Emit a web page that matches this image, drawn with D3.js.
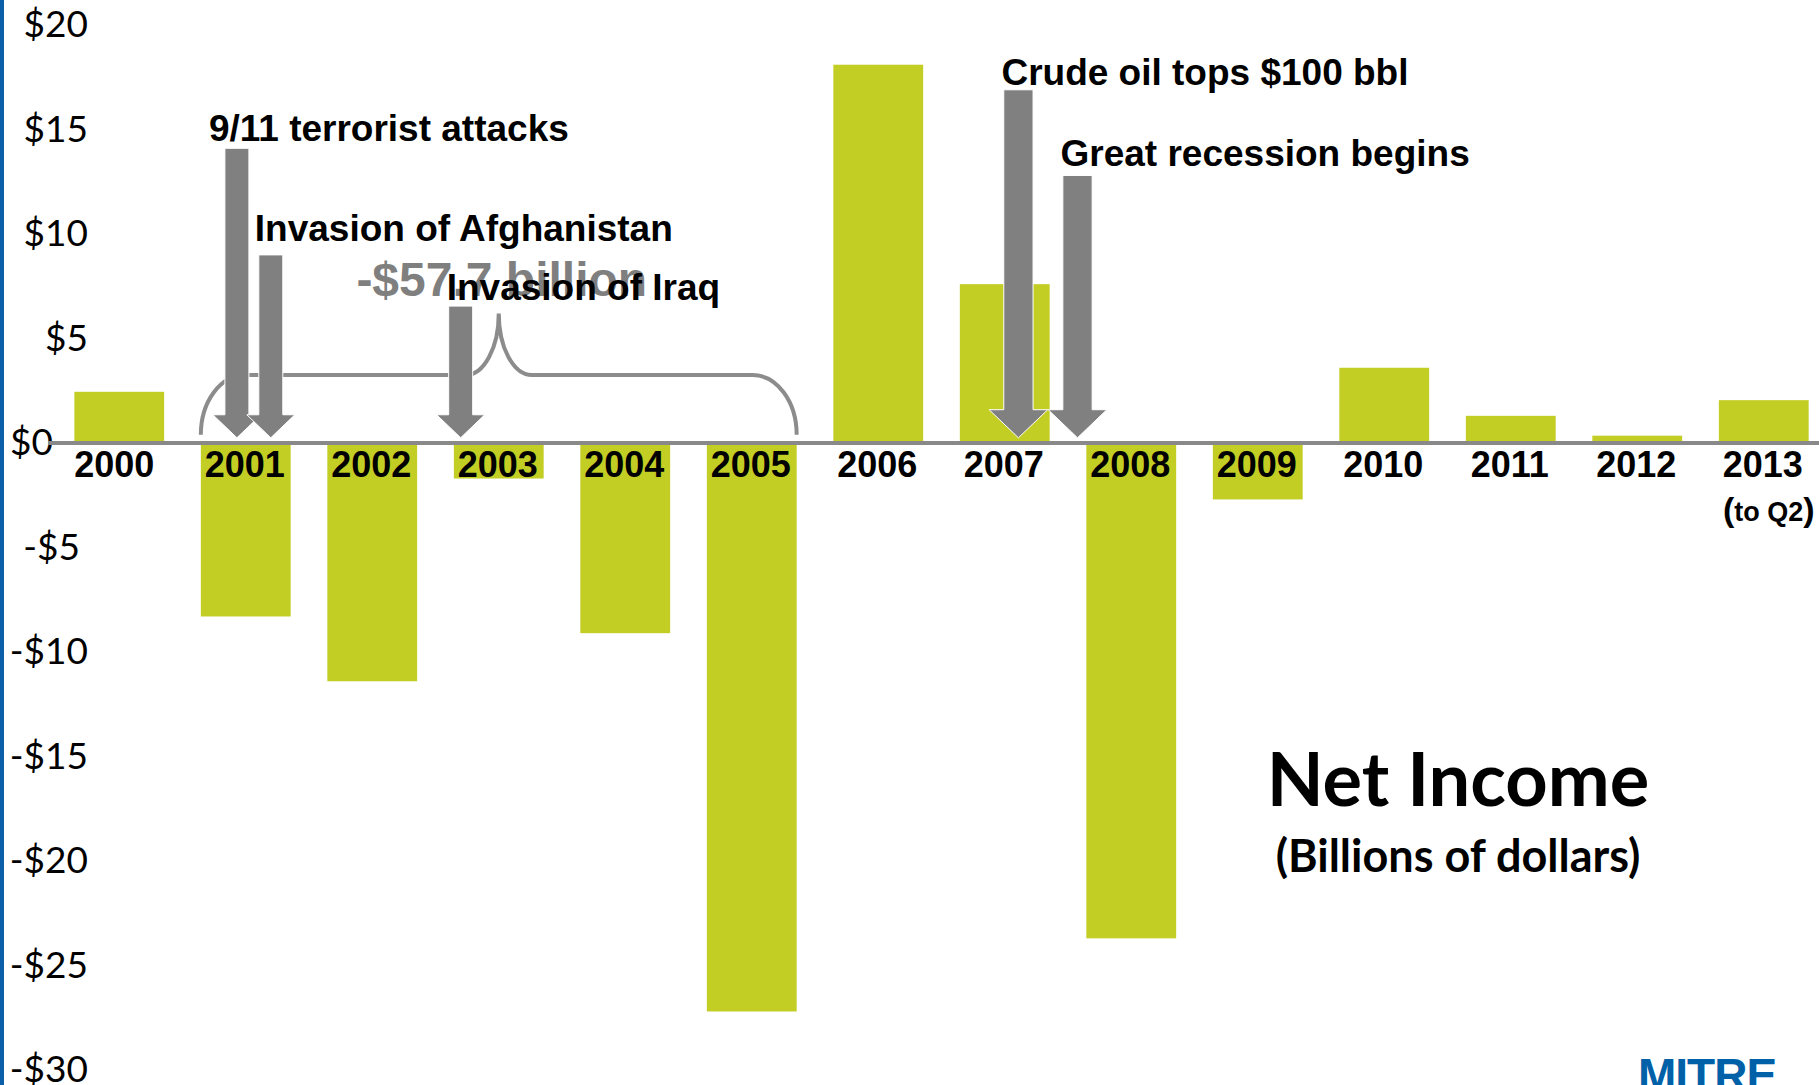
<!DOCTYPE html>
<meta charset="utf-8">
<style>
body { margin: 0; background: #fff; }
svg { display: block; }
.bar { fill: #c3ce24; }
.yaxis text { font-family: Lato, sans-serif; font-size: 37px; fill: #000; }
.year { font-family: "Liberation Sans", Arial, sans-serif; font-weight: bold; font-size: 36px; text-anchor: middle; fill: #000; }
.note { font-family: "Liberation Sans", Arial, sans-serif; font-weight: bold; font-size: 37px; fill: #000; }
.arrow { fill: #808080; stroke: #fff; stroke-width: 1px; }
.brace { fill: none; stroke: #8c8c8c; stroke-width: 4px; }
</style>
<body></body>
<script src="https://cdn.jsdelivr.net/npm/d3@7"></script>
<script>
// data (billions of dollars)
var years = ["2000", "2001", "2002", "2003", "2004", "2005", "2006",
             "2007", "2008", "2009", "2010", "2011", "2012", "2013"];
var netIncome = [2.45, -8.3, -11.4, -1.7, -9.1, -27.2, 18.1,
                 7.6, -23.7, -2.7, 3.6, 1.3, 0.35, 2.05];
var yTicks = [20, 15, 10, 5, 0, -5, -10, -15, -20, -25, -30];

// events: where along the year axis the arrow points, and how tall it is
var events = ["9/11 terrorist attacks", "Invasion of Afghanistan", "Invasion of Iraq",
              "Crude oil tops $100 bbl", "Great recession begins"];
var eventAt = [2001.285, 2001.553, 2003.054, 2007.463, 2007.93];
var eventTop = [14.1, 9.0, 6.55, 16.9, 12.8];
var braceYears = ["2001", "2005"];

// layout only
var W = 1819, H = 1085;
var labelDx = [-28, -16, -14, -17, -17];
var labelDy = [-7, -14, -6, -5, -9];
var arrowScale = [1, 1, 1, 1.22, 1.22];

var svg = d3.select("body").append("svg")
    .attr("width", W)
    .attr("height", H);

svg.append("rect").attr("width", W).attr("height", H).attr("fill", "#fff");

var x = d3.scaleBand()
    .domain(years)
    .range([56, 1827])
    .paddingInner(0.29)
    .paddingOuter(0.145);

var y = d3.scaleLinear().domain([-30, 20]).range([1070, 25]);

// year positions as numbers (band start = start of year)
var xYear = d3.scaleLinear()
    .domain([2000, 2001])
    .range([x("2000"), x("2001")]);

var data = years.map(function(d, i) { return {year: d, value: netIncome[i]}; });

// bars
svg.selectAll(".bar")
    .data(data)
    .enter().append("rect")
    .attr("class", "bar")
    .attr("x", function(d) { return x(d.year); })
    .attr("width", x.bandwidth())
    .attr("y", function(d) { return y(Math.max(0, d.value)); })
    .attr("height", function(d) { return Math.abs(y(d.value) - y(0)); });

// y axis labels only
var yAxis = svg.append("g")
    .attr("class", "yaxis")
    .attr("transform", "translate(88,0)")
    .call(d3.axisLeft(y)
        .tickValues(yTicks)
        .tickSize(0)
        .tickPadding(0)
        .tickFormat(function(d) { return (d < 0 ? "-" : "") + "$" + Math.abs(d); }));
yAxis.select(".domain").remove();
yAxis.selectAll(".tick text").attr("font-family", null).attr("font-size", null);
yAxis.selectAll(".tick").filter(function(d) { return d === 0; })
    .select("text").attr("x", -35);
yAxis.selectAll(".tick").filter(function(d) { return d === -5; })
    .select("text").attr("x", -8);

// zero line
svg.append("line")
    .attr("x1", 48).attr("x2", W)
    .attr("y1", y(0)).attr("y2", y(0))
    .attr("stroke", "#898989")
    .attr("stroke-width", 4);

// year labels
svg.selectAll(".year")
    .data(years)
    .enter().append("text")
    .attr("class", "year")
    .attr("x", function(d) { return x(d) + x.bandwidth() / 2 - (d === "2000" ? 5 : 1); })
    .attr("y", 477)
    .text(function(d) { return d; });

var q2 = svg.append("text")
    .attr("class", "year")
    .attr("x", x("2013") + x.bandwidth() / 2 + 5)
    .attr("y", 521);
q2.append("tspan").attr("font-size", 34).text("(");
q2.append("tspan").attr("font-size", 27).text("to Q2");
q2.append("tspan").attr("font-size", 34).text(")");

// brace over the loss years
var bx0 = x(braceYears[0]),
    bx1 = x(braceYears[1]) + x.bandwidth(),
    bxm = (bx0 + bx1) / 2,
    yEnd = y(0.4), yMid = y(3.25), yPeak = y(6.2),
    r = 44, rm = 33;
var ry = yEnd - yMid, rym = yMid - yPeak;
svg.append("path")
    .attr("class", "brace")
    .attr("d", "M" + bx0 + "," + yEnd +
        " A" + r + "," + ry + " 0 0 1 " + (bx0 + r) + "," + yMid +
        " L" + (bxm - rm) + "," + yMid +
        " A" + rm + "," + rym + " 0 0 0 " + bxm + "," + yPeak +
        " A" + rm + "," + rym + " 0 0 0 " + (bxm + rm) + "," + yMid +
        " L" + (bx1 - r) + "," + yMid +
        " A" + r + "," + ry + " 0 0 1 " + bx1 + "," + yEnd);

var lossTotal = d3.sum(data.filter(function(d) {
    return +d.year >= +braceYears[0] && +d.year <= +braceYears[1];
}), function(d) { return d.value; });

svg.append("text")
    .attr("x", bxm + 3)
    .attr("y", yPeak - 17)
    .attr("text-anchor", "middle")
    .attr("font-family", "'Liberation Sans', Arial, sans-serif")
    .attr("font-weight", "bold")
    .attr("font-size", 48)
    .attr("fill", "#7f7f7f")
    .text("-$" + d3.format(".1f")(-lossTotal) + " billion");

// arrows
function arrowPath(cx, top, tip, s) {
    var w = 24 * s, hw = 48 * s, hh = 23 * s;
    return "M" + (cx - w / 2) + "," + top +
        " L" + (cx + w / 2) + "," + top +
        " L" + (cx + w / 2) + "," + (tip - hh) +
        " L" + (cx + hw / 2) + "," + (tip - hh) +
        " L" + cx + "," + tip +
        " L" + (cx - hw / 2) + "," + (tip - hh) +
        " L" + (cx - w / 2) + "," + (tip - hh) + " Z";
}

events.forEach(function(name, i) {
    var cx = xYear(eventAt[i]);
    svg.append("path")
        .attr("class", "arrow")
        .attr("d", arrowPath(cx, y(eventTop[i]), y(0.25), arrowScale[i]));
});

events.forEach(function(name, i) {
    svg.append("text")
        .attr("class", "note")
        .attr("x", xYear(eventAt[i]) + labelDx[i])
        .attr("y", y(eventTop[i]) + labelDy[i])
        .text(name);
});

// title
svg.append("text")
    .attr("x", 1458).attr("y", 806)
    .attr("text-anchor", "middle")
    .attr("font-family", "Lato, sans-serif")
    .attr("font-weight", "bold")
    .attr("font-size", 74)
    .text("Net Income");

svg.append("text")
    .attr("x", 1458).attr("y", 872)
    .attr("text-anchor", "middle")
    .attr("font-family", "Lato, sans-serif")
    .attr("font-weight", "bold")
    .attr("font-size", 45)
    .text("(Billions of dollars)");

// logo peeking at the bottom, and the slide's left edge
svg.append("text")
    .attr("x", 1638).attr("y", 1091)
    .attr("font-family", "'Liberation Sans', Arial, sans-serif")
    .attr("font-weight", "bold")
    .attr("font-size", 46)
    .attr("letter-spacing", -1)
    .attr("fill", "#0061a8")
    .text("MITRE");

svg.append("rect")
    .attr("x", 0).attr("y", 0)
    .attr("width", 4).attr("height", H)
    .attr("fill", "#0b5ea8");
</script>
